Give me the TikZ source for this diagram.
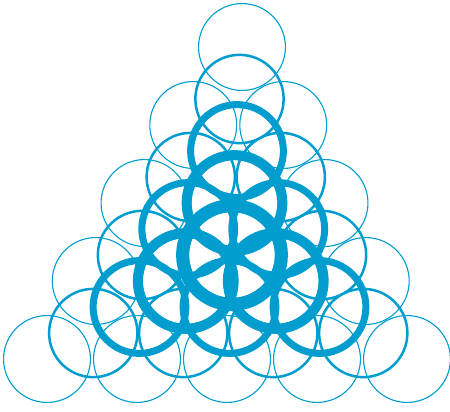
\documentclass[tikz,border=0pt]{standalone}
\definecolor{ball}{RGB}{0,157,206}
\begin{document}
\begin{tikzpicture}[x=1pt,y=-1pt]
\tikzset{ring/.style={draw=ball}}
\useasboundingbox (0,0) rectangle (450,412);
\foreach \L/\w in {0/1.1,1/2.5,2/7,3/10,4/13}{
  \pgfmathtruncatemacro\n{4-\L}
  \pgfmathsetmacro\r{42.9+\w/2}
  \foreach \b in {0,...,\n}{
    \pgfmathtruncatemacro\m{\n-\b}
    \foreach \a in {0,...,\m}{
      \draw[ring,line width=\w pt] ({47+90*\a+48.75*\b+46.25*\L},{359-78*\b-26*\L}) circle[radius=\r];
    }
  }
}
\end{tikzpicture}
\end{document}
